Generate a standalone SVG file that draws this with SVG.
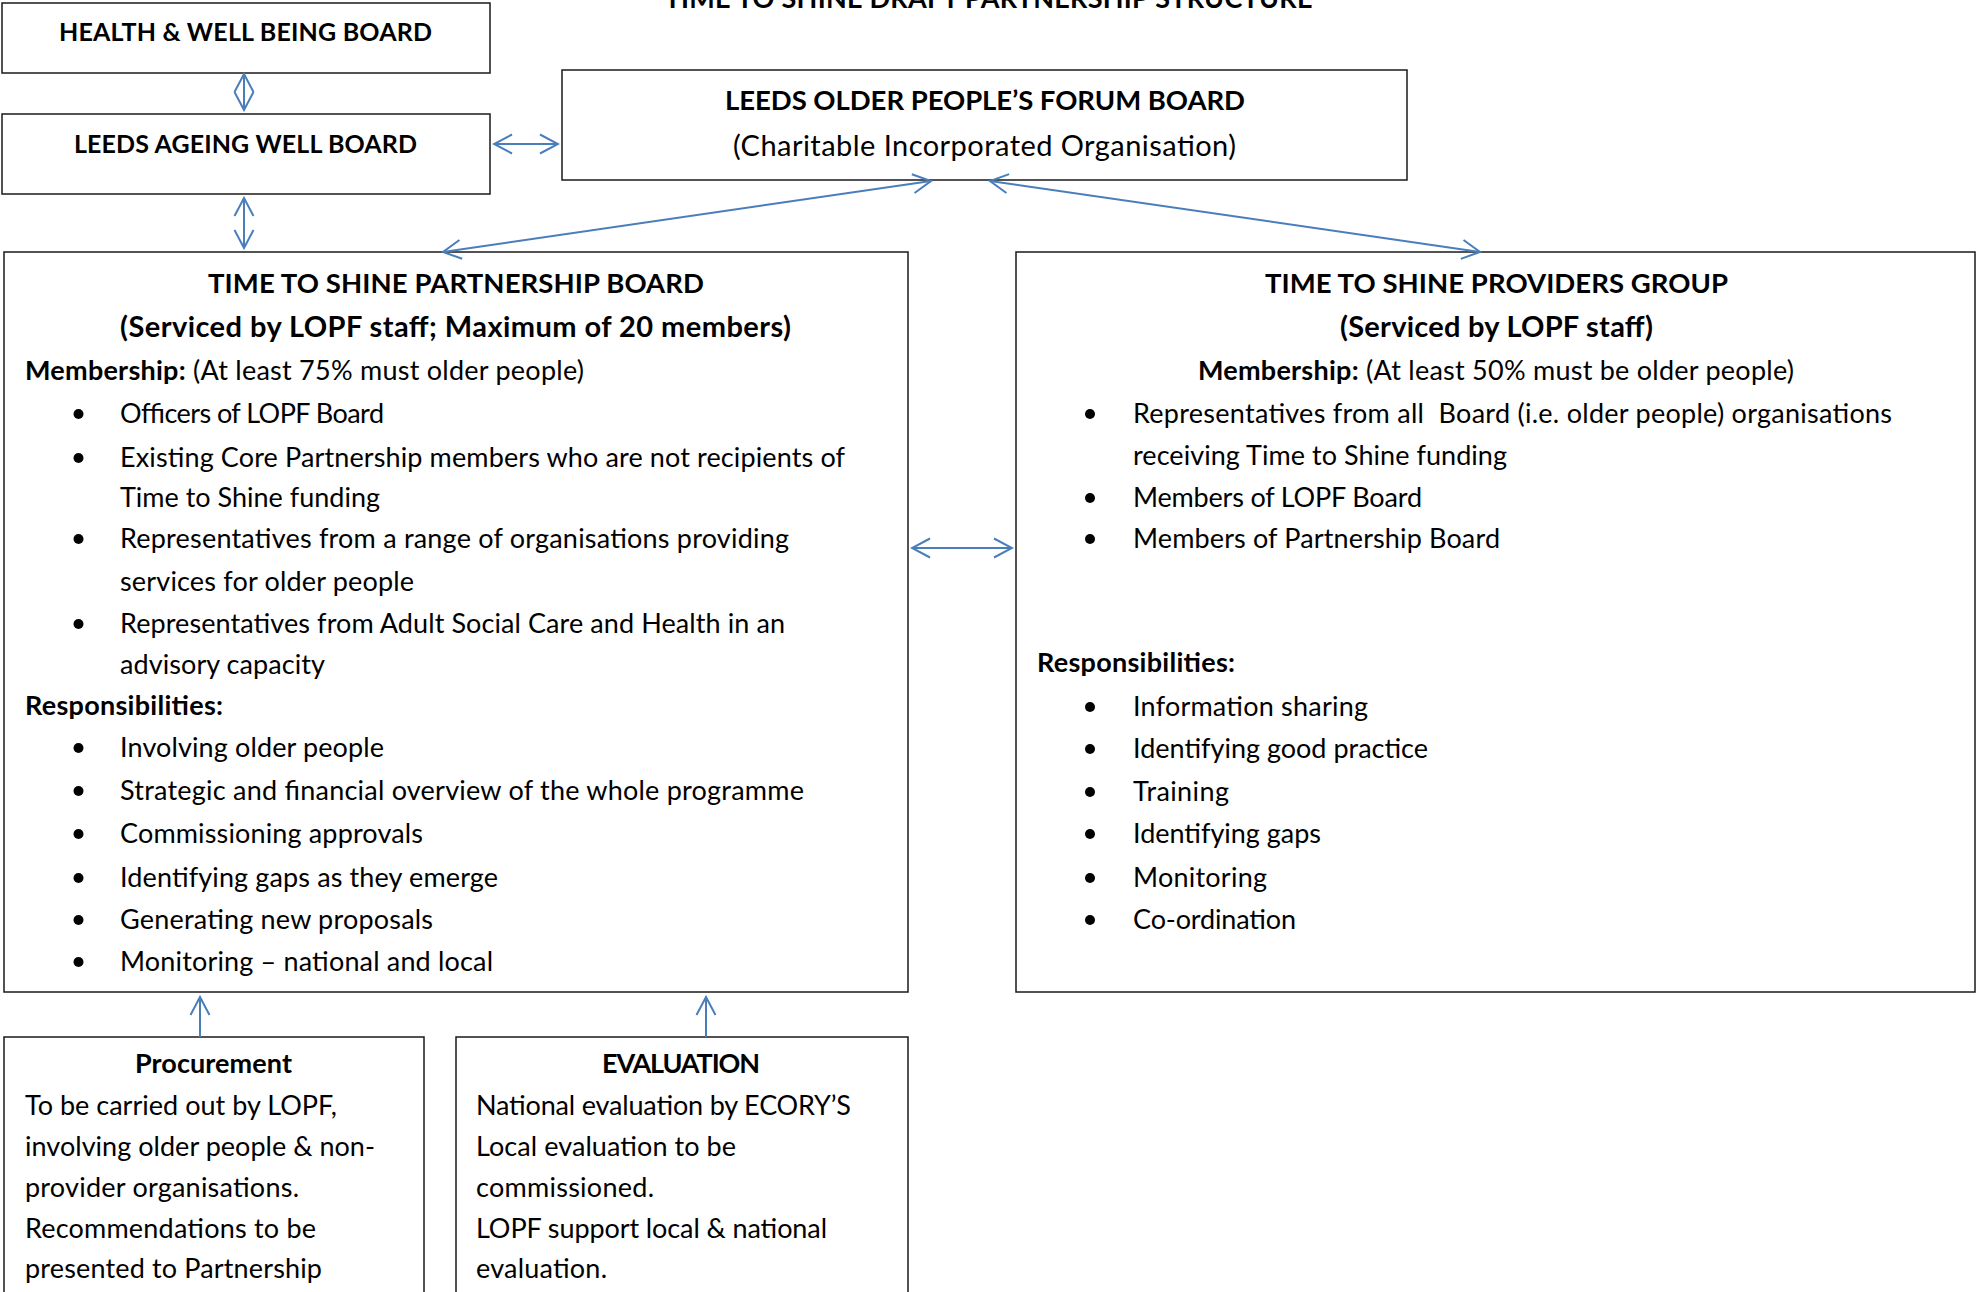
<svg xmlns="http://www.w3.org/2000/svg" width="1977" height="1292" viewBox="0 0 1977 1292">
<style>
text{font-family:Lato,"Liberation Sans",sans-serif;font-size:27px;fill:#000}
.b{font-weight:bold}
.s{font-size:25px}
.h{font-size:27.5px}
.sv{font-size:29px}
.cio{font-size:29px}
.box{fill:#fff;stroke:#1a1a1a;stroke-width:1.5}
.con{stroke:#4a7ebb;stroke-width:2;fill:none}
.dot{fill:#000}
</style>
<defs>
<marker id="ah" markerUnits="userSpaceOnUse" markerWidth="22" markerHeight="24" viewBox="-2 -12 22 24" refX="18" refY="0" orient="auto-start-reverse">
<path d="M0,-9.5 L18,0 L0,9.5" fill="none" stroke="#4a7ebb" stroke-width="2"/>
</marker>
</defs>
<rect width="1977" height="1292" fill="#fff"/>

<g id="title">
<text class="b" x="664.5" y="8" textLength="648">TIME TO SHINE DRAFT PARTNERSHIP STRUCTURE</text>
</g>

<g id="health-board">
<rect class="box" x="2" y="3" width="488" height="70"/>
<text class="b s" x="59" y="41" textLength="373">HEALTH &amp; WELL BEING BOARD</text>
</g>

<g id="ageing-board">
<rect class="box" x="2" y="114" width="488" height="80"/>
<text class="b s" x="74" y="153" textLength="343">LEEDS AGEING WELL BOARD</text>
</g>

<g id="lopf-board">
<rect class="box" x="562" y="70" width="845" height="110"/>
<text class="b h" x="725" y="110" textLength="520">LEEDS OLDER PEOPLE’S FORUM BOARD</text>
<text class="cio" x="733" y="156" textLength="503">(Charitable Incorporated Organisation)</text>
</g>

<g id="partnership-board">
<rect class="box" x="4" y="252" width="904" height="740"/>
<text class="b h" x="208" y="293" textLength="496">TIME TO SHINE PARTNERSHIP BOARD</text>
<text class="b sv" x="120" y="337" textLength="671">(Serviced by LOPF staff; Maximum of 20 members)</text>
<text x="25" y="380" textLength="559"><tspan class="b">Membership:</tspan> (At least 75% must older people)</text>
<circle class="dot" cx="78.5" cy="414" r="5"/>
<text x="120" y="423" textLength="264">Officers of LOPF Board</text>
<circle class="dot" cx="78.5" cy="458" r="5"/>
<text x="120" y="467" textLength="725">Existing Core Partnership members who are not recipients of</text>
<text x="120" y="507" textLength="260">Time to Shine funding</text>
<circle class="dot" cx="78.5" cy="539" r="5"/>
<text x="120" y="548" textLength="669">Representatives from a range of organisations providing</text>
<text x="120" y="591" textLength="294">services for older people</text>
<circle class="dot" cx="78.5" cy="624" r="5"/>
<text x="120" y="633" textLength="665">Representatives from Adult Social Care and Health in an</text>
<text x="120" y="674" textLength="205">advisory capacity</text>
<text class="b" x="25" y="715" textLength="198">Responsibilities:</text>
<circle class="dot" cx="78.5" cy="748" r="5"/>
<text x="120" y="757" textLength="264">Involving older people</text>
<circle class="dot" cx="78.5" cy="791" r="5"/>
<text x="120" y="800" textLength="684">Strategic and financial overview of the whole programme</text>
<circle class="dot" cx="78.5" cy="834" r="5"/>
<text x="120" y="843" textLength="303">Commissioning approvals</text>
<circle class="dot" cx="78.5" cy="878" r="5"/>
<text x="120" y="887" textLength="378">Identifying gaps as they emerge</text>
<circle class="dot" cx="78.5" cy="920" r="5"/>
<text x="120" y="929" textLength="313">Generating new proposals</text>
<circle class="dot" cx="78.5" cy="962" r="5"/>
<text x="120" y="971" textLength="373">Monitoring – national and local</text>
</g>

<g id="providers-group">
<rect class="box" x="1016" y="252" width="959" height="740"/>
<text class="b h" x="1265" y="293" textLength="463">TIME TO SHINE PROVIDERS GROUP</text>
<text class="b sv" x="1340" y="337" textLength="313">(Serviced by LOPF staff)</text>
<text x="1198" y="380" textLength="596"><tspan class="b">Membership:</tspan> (At least 50% must be older people)</text>
<circle class="dot" cx="1090" cy="414" r="5"/>
<text x="1133" y="423" xml:space="preserve" textLength="759">Representatives from all  Board (i.e. older people) organisations</text>
<text x="1133" y="465" textLength="374">receiving Time to Shine funding</text>
<circle class="dot" cx="1090" cy="498" r="5"/>
<text x="1133" y="507" textLength="289">Members of LOPF Board</text>
<circle class="dot" cx="1090" cy="539" r="5"/>
<text x="1133" y="548" textLength="367">Members of Partnership Board</text>
<text class="b" x="1037" y="672" textLength="198">Responsibilities:</text>
<circle class="dot" cx="1090" cy="707" r="5"/>
<text x="1133" y="716" textLength="235">Information sharing</text>
<circle class="dot" cx="1090" cy="749" r="5"/>
<text x="1133" y="758" textLength="295">Identifying good practice</text>
<circle class="dot" cx="1090" cy="792" r="5"/>
<text x="1133" y="801" textLength="96">Training</text>
<circle class="dot" cx="1090" cy="834" r="5"/>
<text x="1133" y="843" textLength="188">Identifying gaps</text>
<circle class="dot" cx="1090" cy="878" r="5"/>
<text x="1133" y="887" textLength="134">Monitoring</text>
<circle class="dot" cx="1090" cy="920" r="5"/>
<text x="1133" y="929" textLength="163">Co-ordination</text>
</g>

<g id="procurement">
<rect class="box" x="4" y="1037" width="420" height="270"/>
<text class="b" x="135" y="1073" textLength="157">Procurement</text>
<text x="25" y="1115" textLength="312">To be carried out by LOPF,</text>
<text x="25" y="1156" textLength="350">involving older people &amp; non-</text>
<text x="25" y="1197" textLength="274">provider organisations.</text>
<text x="25" y="1238" textLength="291">Recommendations to be</text>
<text x="25" y="1278" textLength="297">presented to Partnership</text>
</g>

<g id="evaluation">
<rect class="box" x="456" y="1037" width="452" height="270"/>
<text class="b" x="602" y="1073" textLength="158">EVALUATION</text>
<text x="476" y="1115" textLength="375">National evaluation by ECORY’S</text>
<text x="476" y="1156" textLength="260">Local evaluation to be</text>
<text x="476" y="1197" textLength="178">commissioned.</text>
<text x="476" y="1238" textLength="351">LOPF support local &amp; national</text>
<text x="476" y="1278" textLength="131">evaluation.</text>
</g>

<g id="connectors">
<line class="con" x1="244" y1="74" x2="244" y2="110" marker-start="url(#ah)" marker-end="url(#ah)"/>
<line class="con" x1="244" y1="198" x2="244" y2="248" marker-start="url(#ah)" marker-end="url(#ah)"/>
<line class="con" x1="494" y1="144" x2="558" y2="144" marker-start="url(#ah)" marker-end="url(#ah)"/>
<line class="con" x1="931" y1="181" x2="443" y2="252" marker-start="url(#ah)" marker-end="url(#ah)"/>
<line class="con" x1="990" y1="181" x2="1480" y2="252" marker-start="url(#ah)" marker-end="url(#ah)"/>
<line class="con" x1="912" y1="548" x2="1012" y2="548" marker-start="url(#ah)" marker-end="url(#ah)"/>
<line class="con" x1="200" y1="1037" x2="200" y2="997" marker-end="url(#ah)"/>
<line class="con" x1="706" y1="1037" x2="706" y2="997" marker-end="url(#ah)"/>
</g>
</svg>
